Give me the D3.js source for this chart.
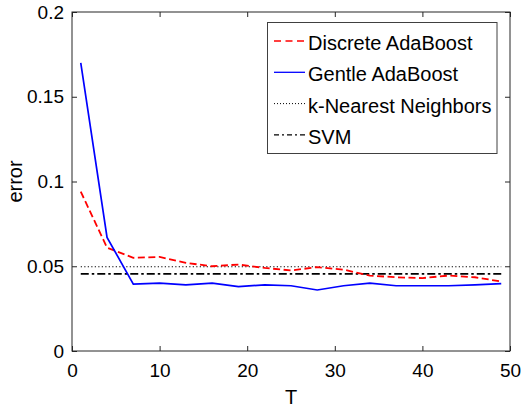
<!DOCTYPE html>
<html><head><meta charset="utf-8">
<script src="https://cdn.jsdelivr.net/npm/d3@7"></script>
<style>
body{margin:0;background:#fff;}
text{font-family:"Liberation Sans",Arial,Helvetica,sans-serif;}
</style></head>
<body>
<svg id="chart" width="521" height="407"></svg>
<script>
const T = [1,4,7,10,13,16,19,22,25,28,31,34,37,40,43,46,49];
const discreteAda = [0.094,0.061,0.055,0.0555,0.052,0.050,0.051,0.049,0.0475,0.0495,0.048,0.0445,0.0435,0.043,0.0445,0.0435,0.041];
const gentleAda = [0.170,0.067,0.0395,0.040,0.039,0.040,0.038,0.039,0.0385,0.036,0.0385,0.040,0.0385,0.0385,0.0385,0.039,0.0397];
const knnError = 0.0497;
const svmError = 0.0455;
const xTicks = [0,10,20,30,40,50];
const yTicks = [0,0.05,0.1,0.15,0.2];
const yTickLabels = ["0","0.05","0.1","0.15","0.2"];
const seriesNames = ["Discrete AdaBoost","Gentle AdaBoost","k-Nearest Neighbors","SVM"];

const svg = d3.select("#chart");
const L=72, R=510, Tp=12, B=351;
const x = d3.scaleLinear().domain([0,50]).range([L,R]);
const y = d3.scaleLinear().domain([0,0.2]).range([B,Tp]);
const axisColor="#262626";
const fs=19, fsL=20;

svg.append("rect").attr("width",521).attr("height",407).attr("fill","#fff");

// axes
const gx = svg.append("g").attr("transform",`translate(0,${B})`)
  .call(d3.axisBottom(x).tickValues(xTicks).tickSizeInner(-5).tickSizeOuter(0).tickPadding(13).tickFormat(d3.format("d")));
const gy = svg.append("g").attr("transform",`translate(${L},0)`)
  .call(d3.axisLeft(y).tickValues(yTicks).tickSizeInner(-5).tickSizeOuter(0).tickPadding(8).tickFormat((d,i)=>yTickLabels[i]));
const gxt = svg.append("g").attr("transform",`translate(0,${Tp})`)
  .call(d3.axisTop(x).tickValues(xTicks).tickSizeInner(-5).tickSizeOuter(0).tickFormat(""));
const gyr = svg.append("g").attr("transform",`translate(${R},0)`)
  .call(d3.axisRight(y).tickValues(yTicks).tickSizeInner(-5).tickSizeOuter(0).tickFormat(""));
[gx,gy,gxt,gyr].forEach(g=>{
  g.select(".domain").remove();
  g.selectAll("line").attr("stroke",axisColor);
  g.selectAll("text").attr("font-size",fs).attr("fill","#000").style("font-family","Liberation Sans, Arial, sans-serif");
});
svg.append("rect").attr("x",L).attr("y",Tp).attr("width",R-L).attr("height",B-Tp)
  .attr("fill","none").attr("stroke",axisColor).attr("stroke-width",1);

// lines
const line = d3.line().x((d,i)=>x(T[i])).y(d=>y(d));
svg.append("path").datum(T.map(()=>knnError)).attr("d",line)
  .attr("fill","none").attr("stroke","#000").attr("stroke-width",1.2).attr("stroke-dasharray","1.2,2.3");
svg.append("path").datum(T.map(()=>svmError)).attr("d",line)
  .attr("fill","none").attr("stroke","#000").attr("stroke-width",1.8).attr("stroke-dasharray","8,3,2.5,3");
svg.append("path").datum(discreteAda).attr("d",line)
  .attr("fill","none").attr("stroke","#ff0000").attr("stroke-width",1.8).attr("stroke-dasharray","7,3.5");
svg.append("path").datum(gentleAda).attr("d",line)
  .attr("fill","none").attr("stroke","#0000ff").attr("stroke-width",1.7);

// axis labels
svg.append("text").attr("x",(L+R)/2).attr("y",404).attr("text-anchor","middle").attr("font-size",fsL).text("T");
svg.append("text").attr("transform",`translate(22,${(Tp+B)/2}) rotate(-90)`).attr("text-anchor","middle").attr("font-size",fsL).text("error");

// legend
const lg = svg.append("g");
lg.append("rect").attr("x",267.5).attr("y",22.5).attr("width",229.5).attr("height",131).attr("fill","#fff").attr("stroke","#404040").attr("stroke-width",1);
const styles = [
  {c:"#ff0000",w:1.3,da:"7,4.5"},
  {c:"#0000ff",w:1.3,da:null},
  {c:"#000",w:1,da:"1,2"},
  {c:"#000",w:1.2,da:"5,3,2,3"}
];
seriesNames.forEach((n,i)=>{
  const yy = 41+i*31.3;
  const l = lg.append("line").attr("x1",274).attr("x2",305).attr("y1",yy).attr("y2",yy)
    .attr("stroke",styles[i].c).attr("stroke-width",styles[i].w);
  if(styles[i].da) l.attr("stroke-dasharray",styles[i].da);
  lg.append("text").attr("x",308).attr("y",yy+9).attr("font-size",fsL).text(n);
});
</script>
</body></html>
